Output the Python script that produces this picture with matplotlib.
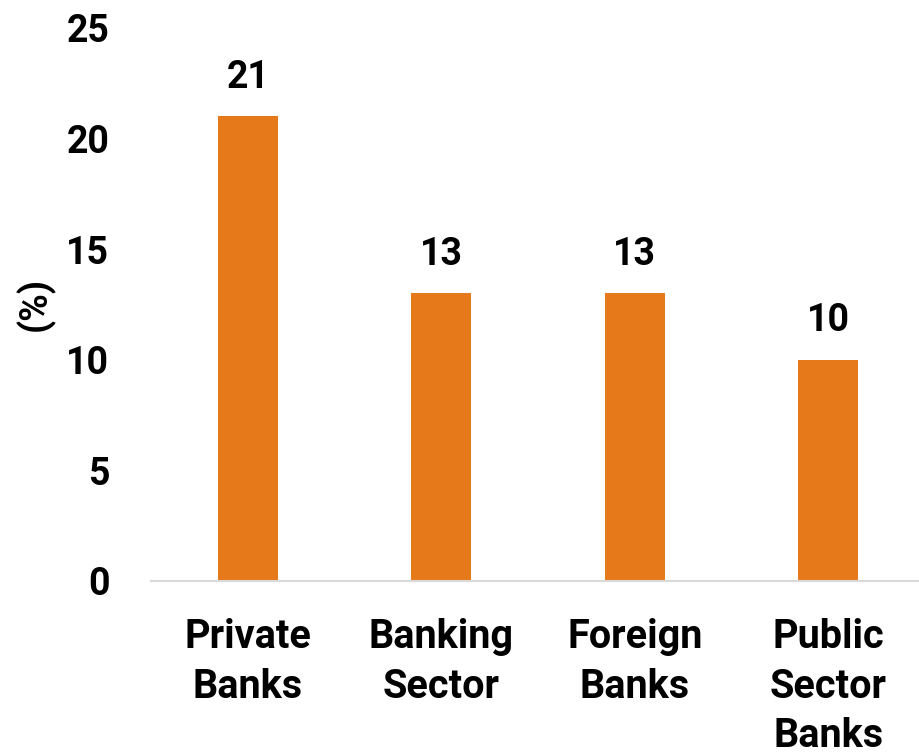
import matplotlib
matplotlib.use("Agg")
import matplotlib.pyplot as plt

categories = ["Private\nBanks", "Banking\nSector", "Foreign\nBanks", "Public\nSector\nBanks"]
values = [21, 13, 13, 10]
yticks = [0, 5, 10, 15, 20, 25]

BAR_COLOR = "#E67A1B"
plt.rcParams["font.family"] = ["Roboto", "DejaVu Sans"]
WEIGHT = "bold"

fig = plt.figure(figsize=(9.19, 7.56), dpi=100)
ax = fig.add_axes([0.1643, 0.2315, 0.8422, 0.7315])

x = range(len(categories))
bars = ax.bar(x, values, width=0.31, color=BAR_COLOR, zorder=2)

for b, v in zip(bars, values):
    ax.annotate(f"{v}", xy=(b.get_x() + b.get_width() / 2, v), xytext=(0, 15),
                textcoords="offset points", ha="center", va="bottom",
                fontsize=27, fontweight=WEIGHT)

ax.set_xlim(-0.5, 3.5)
ax.set_ylim(0, 25)
ax.set_yticks(yticks)
ax.set_yticklabels([str(t) for t in yticks], fontsize=27, fontweight=WEIGHT)
ax.set_xticks(list(x))
ax.set_xticklabels(categories, fontsize=28.5, fontweight=WEIGHT, linespacing=1.37)
ax.tick_params(axis="y", length=0, pad=30)
ax.tick_params(axis="x", length=0, pad=27)
ax.set_ylabel("(%)", fontsize=27, fontweight=WEIGHT, labelpad=8)

for side in ["top", "right", "left"]:
    ax.spines[side].set_visible(False)
ax.spines["bottom"].set_color("#D9D9D9")
ax.spines["bottom"].set_linewidth(1.5)

fig.savefig("out.png", dpi=100)
